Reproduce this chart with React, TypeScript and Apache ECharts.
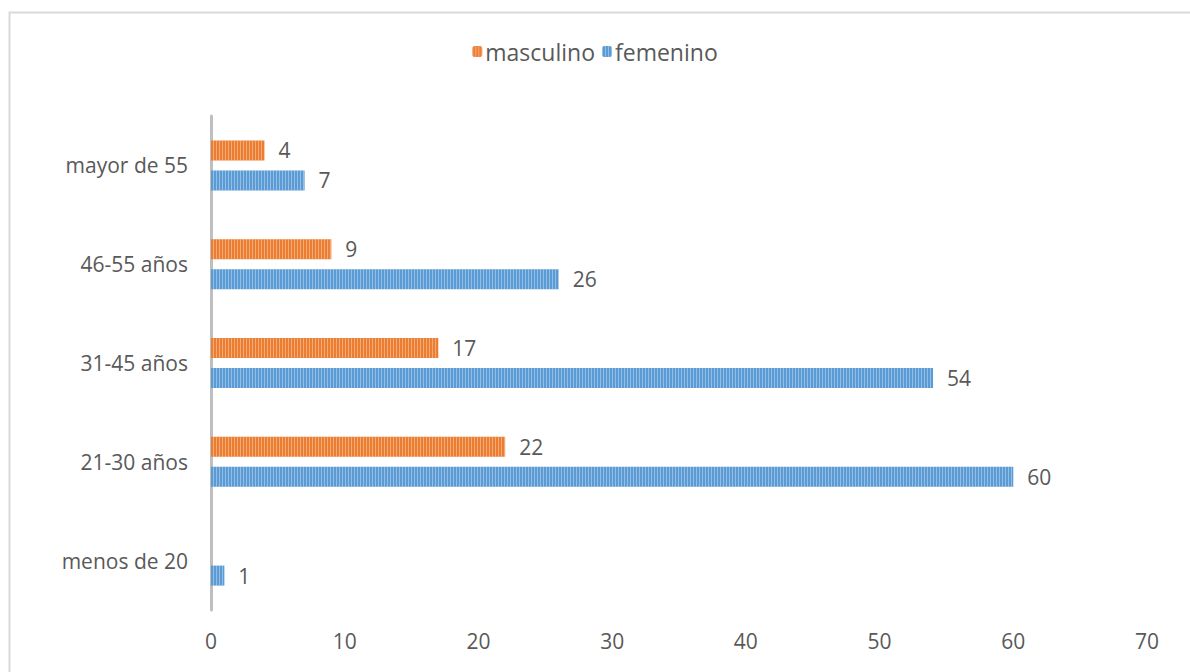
import React, { useEffect, useRef } from "react";
import * as echarts from "echarts";

const categories = ["menos de 20", "21-30 años", "31-45 años", "46-55 años", "mayor de 55"];
const masculino: (number | null)[] = [null, 22, 17, 9, 4];
const femenino = [1, 60, 54, 26, 7];
const xTicks = { min: 0, max: 70, interval: 10 };

const FONT = "'Open Sans', Lato, sans-serif";
const TXT = "#595959";
const FS = 21;

export default function App() {
  const ref = useRef<HTMLDivElement>(null);
  useEffect(() => {
    if (!ref.current) return;
    const chart = echarts.init(ref.current, null, { renderer: "svg" });
    const decal = {
      symbol: "rect",
      symbolSize: 1,
      dashArrayX: [1, 2],
      dashArrayY: [10, 0],
      color: "rgba(255,255,255,0.35)",
    };
    const label = {
      show: true,
      position: "right",
      distance: 14,
      color: TXT,
      fontSize: FS,
      fontFamily: FONT,
    };
    chart.setOption({
      animation: false,
      backgroundColor: "#ffffff",
      graphic: [
        {
          type: "rect",
          shape: { x: 9.5, y: 12.5, width: 1200, height: 700 },
          style: { fill: "none", stroke: "#d9d9d9", lineWidth: 2 },
          silent: true,
        },
      ],
      legend: {
        data: ["masculino", "femenino"],
        top: 35,
        left: "center",
        itemWidth: 10,
        itemHeight: 11,
        itemGap: 7,
        textStyle: { color: TXT, fontSize: 23, fontFamily: FONT, padding: [0, 0, 0, -2] },
      },
      grid: { left: 211, right: 43, top: 116, bottom: 62, containLabel: false },
      xAxis: {
        type: "value",
        min: xTicks.min,
        max: xTicks.max,
        interval: xTicks.interval,
        axisLine: { show: false },
        axisTick: { show: false },
        splitLine: { show: false },
        axisLabel: { color: TXT, fontSize: FS, fontFamily: FONT, margin: 20 },
      },
      yAxis: {
        type: "category",
        data: categories,
        axisLine: { show: true, lineStyle: { color: "#bfbfbf", width: 3 } },
        axisTick: { show: false },
        axisLabel: { color: TXT, fontSize: FS, fontFamily: FONT, margin: 23 },
      },
      series: [
        {
          name: "masculino",
          type: "bar",
          data: masculino,
          barWidth: 20,
          barGap: "50%",
          itemStyle: { color: "#ED7D31", decal },
          label,
        },
        {
          name: "femenino",
          type: "bar",
          data: femenino,
          barWidth: 20,
          barGap: "50%",
          itemStyle: { color: "#5B9BD5", decal },
          label,
        },
      ],
    });
    return () => chart.dispose();
  }, []);
  return (
    <div
      ref={ref}
      style={{ position: "fixed", left: 0, top: 0, width: 1190, height: 672 }}
    />
  );
}
